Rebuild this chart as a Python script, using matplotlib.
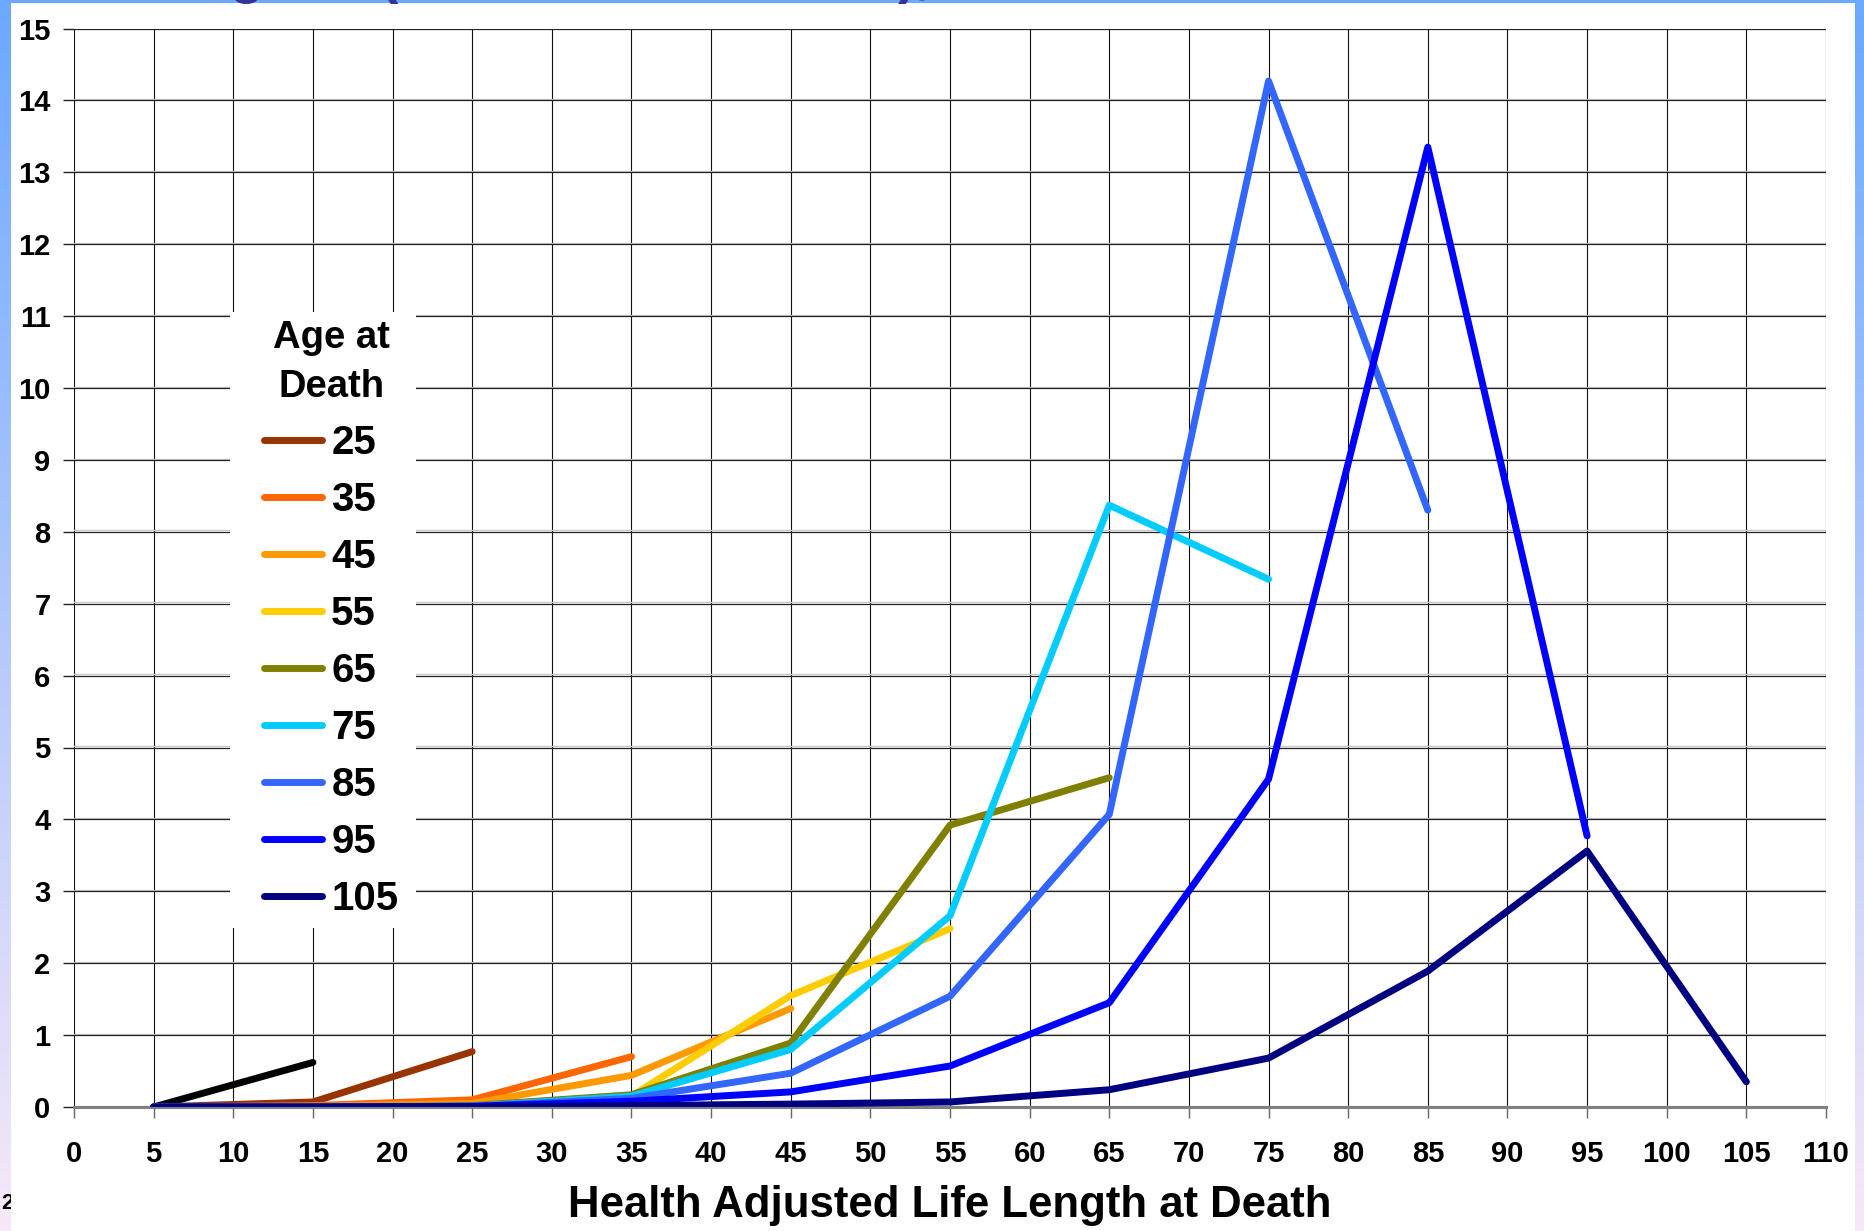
import numpy as np
import matplotlib
matplotlib.use("Agg")
import matplotlib.pyplot as plt
import matplotlib.patheffects as pe
from matplotlib.patches import Rectangle

plt.rcParams['font.family'] = ['Liberation Sans', 'DejaVu Sans']

# ---- data ----
x_points = [5, 15, 25, 35, 45, 55, 65, 75, 85, 95, 105]
age_labels = ['15', '25', '35', '45', '55', '65', '75', '85', '95', '105']
series_colors = ['#000000', '#993300', '#FF6600', '#FF9900', '#FFCC00',
                 '#808000', '#00CCFF', '#3366FF', '#0000FF', '#000080']
s15 = [0, 0.62]
s25 = [0, 0.07, 0.77]
s35 = [0, 0.02, 0.10, 0.70]
s45 = [0, 0.01, 0.05, 0.44, 1.37]
s55 = [0, 0.00, 0.02, 0.15, 1.55, 2.48]
s65 = [0, 0.00, 0.02, 0.17, 0.89, 3.92, 4.58]
s75 = [0, 0.00, 0.01, 0.15, 0.80, 2.66, 8.37, 7.34]
s85 = [0, 0.00, 0.01, 0.12, 0.47, 1.54, 4.07, 14.27, 8.30]
s95 = [0, 0.00, 0.01, 0.08, 0.21, 0.57, 1.45, 4.56, 13.35, 3.77]
s105 = [0, 0.00, 0.00, 0.02, 0.04, 0.07, 0.24, 0.68, 1.89, 3.56, 0.35]
all_series = [s15, s25, s35, s45, s55, s65, s75, s85, s95, s105]
legend_hidden = ['15']

x_ticks = list(range(0, 111, 5))
y_ticks = list(range(0, 16))
x_title = 'Health Adjusted Life Length at Death'
legend_title = 'Age at\nDeath'

W, H = 1865, 1231
fig = plt.figure(figsize=(W / 100, H / 100), dpi=100)

# background gradient + white panel
bg = fig.add_axes([0, 0, 1, 1], zorder=-10)
bg.set_xlim(0, W)
bg.set_ylim(0, H)
bg.axis('off')
top_c = np.array([0.42, 0.66, 1.0])
bot_c = np.array([0.97, 0.91, 0.97])
t = np.linspace(0, 1, 256)[:, None]
grad = (top_c * (1 - t) + bot_c * t)[:, None, :]
bg.imshow(grad, extent=[0, W, 0, H], aspect='auto', origin='upper', zorder=0)
bg.text(1, 22, '2', fontsize=16, fontweight='bold', color='black', zorder=1)
bg.add_patch(Rectangle((11, 0), 1855 - 11, H - 3, facecolor='white', edgecolor='none', zorder=2))
# clipped slide title descenders peeking in at the top
for xs, s in [(247, 'g'), (389, '('), (915, '),')]:
    bg.text(xs, H + 8, s, fontsize=40, fontweight='bold', color='#333399',
            ha='center', va='baseline', zorder=3, clip_on=False)

ax = fig.add_axes([74 / W, 1 - 1107 / H, (1826 - 74) / W, (1107 - 28.5) / H])
ax.set_facecolor('none')
ax.set_xlim(0, 110)
ax.set_ylim(0, 15)
ax.set_xticks(x_ticks)
ax.set_yticks(y_ticks)
ax.set_xticklabels([str(v) for v in x_ticks])
ax.set_yticklabels([str(v) for v in y_ticks])
for sp in ['top', 'right', 'left']:
    ax.spines[sp].set_visible(False)
ax.spines['bottom'].set_color('#808080')
ax.spines['bottom'].set_linewidth(2.2)
ax.spines['bottom'].set_zorder(0.6)

ax.xaxis.grid(True, color='#111111', linewidth=0.8)
ax.yaxis.grid(True, color='#222222', linewidth=0.9,
              path_effects=[pe.SimpleLineShadow(offset=(0, 1.0), shadow_color='#c8c8c8', alpha=1.0),
                            pe.Normal()])
ax.set_axisbelow(True)
ax.tick_params(axis='x', direction='out', length=8, width=1.0, color='#666666',
               pad=16, labelsize=21)
ax.tick_params(axis='y', direction='out', length=8, width=1.0, color='#222222',
               pad=9, labelsize=21)
for lab in ax.get_xticklabels() + ax.get_yticklabels():
    lab.set_fontweight('bold')

for lab, col, ys in zip(age_labels, series_colors, all_series):
    xs = x_points[:len(ys)]
    ax.plot(xs, ys, color=col, linewidth=5.0, solid_capstyle='round',
            solid_joinstyle='round',
            label='_nolegend_' if lab in legend_hidden else lab, zorder=3)

ax.set_xlabel(x_title, fontsize=31.5, fontweight='bold', labelpad=12)

# white legend panel (no border) above the grid, below the legend
ax.add_patch(Rectangle((230 / W, 1 - 928 / H), (416 - 230) / W, (928 - 312) / H,
                       transform=fig.transFigure, facecolor='white', edgecolor='none',
                       zorder=2, clip_on=False))

leg = ax.legend(loc='upper left', bbox_to_anchor=(264 / W, 1 - 320 / H),
                bbox_transform=fig.transFigure, borderaxespad=0,
                title=legend_title, frameon=False,
                prop={'weight': 'bold', 'size': 29},
                title_fontproperties={'weight': 'bold', 'size': 27.5},
                handlelength=1.45, handletextpad=0.22, labelspacing=0.47,
                borderpad=0)
leg.get_title().set_multialignment('center')
leg.get_title().set_linespacing(1.48)
leg.set_zorder(6)

fig.savefig('out.png', dpi=100)
